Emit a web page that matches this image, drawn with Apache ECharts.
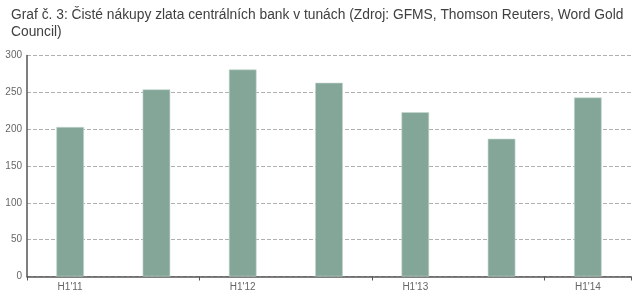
<!DOCTYPE html>
<html><head><meta charset="utf-8">
<script src="https://cdn.jsdelivr.net/npm/echarts@6/dist/echarts.min.js"></script>
<style>html,body{margin:0;padding:0;background:#fff}#c{width:640px;height:297px}</style>
</head><body><div id="c"></div>
<script>
const titleText = "Graf č. 3: Čisté nákupy zlata centrálních bank v tunách (Zdroj: GFMS, Thomson Reuters, Word Gold\nCouncil)";
const categories = ["H1'11","H2'11","H1'12","H2'12","H1'13","H2'13","H1'14"];
const purchases = [203, 254, 281, 263, 223, 187, 243];
const yTicks = [0, 50, 100, 150, 200, 250, 300];

const chart = echarts.init(document.getElementById('c'));
chart.setOption({
  animation: false,
  title: {
    text: titleText, left: 6, top: 2,
    textStyle: { fontFamily: 'Liberation Sans, Arial', fontSize: 13.8, fontWeight: 'normal', color: '#404040', lineHeight: 17 }
  },
  grid: { left: 27, right: 9, top: 55.5, bottom: 20.5, containLabel: false },
  xAxis: {
    type: 'category', data: categories,
    axisLine: { lineStyle: { color: '#555', width: 1.5 } },
    axisTick: { show: true, length: 4, lineStyle: { color: '#555' } },
    axisLabel: { interval: 1, color: '#666', fontSize: 10, fontFamily: 'Liberation Sans, Arial', margin: 6 }
  },
  yAxis: {
    type: 'value', min: yTicks[0], max: yTicks[yTicks.length-1], interval: 50,
    axisLine: { show: true, lineStyle: { color: '#555', width: 1.5 } },
    axisTick: { show: false },
    splitLine: { lineStyle: { color: '#b0b0b0', type: [4, 2], width: 1 } },
    axisLabel: { color: '#666', fontSize: 10, fontFamily: 'Liberation Sans, Arial', margin: 5 }
  },
  series: [{
    type: 'bar', data: purchases, barWidth: '32%',
    itemStyle: { color: '#83a698', borderColor: '#c5d8d0', borderWidth: 0.6 }
  }]
});
</script></body></html>
